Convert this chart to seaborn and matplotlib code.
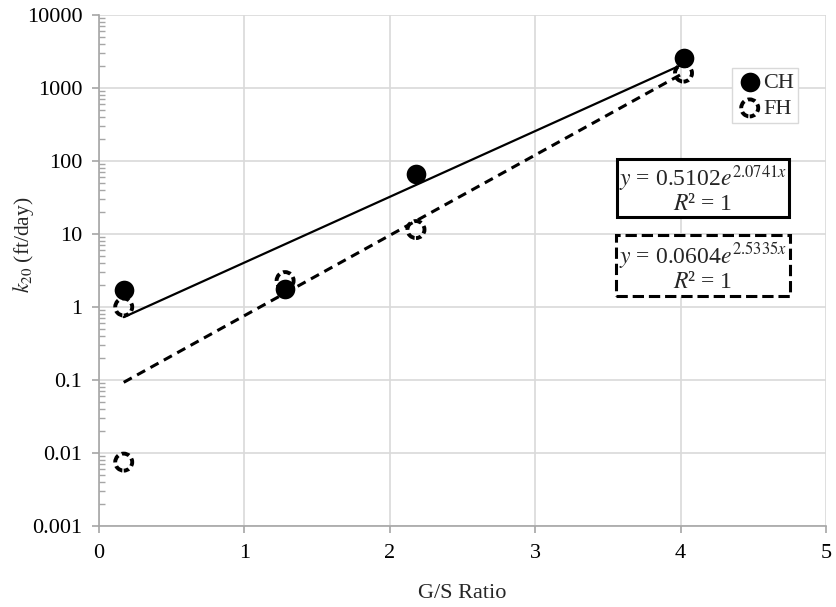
import numpy as np
import pandas as pd
import matplotlib
matplotlib.use("Agg")
import matplotlib.pyplot as plt
import matplotlib.ticker as mticker
import seaborn as sns

# ---- data ----
ch_x = [0.17, 1.28, 2.18, 4.02]
ch_y = [1.7, 1.75, 66, 2600]
fh_x = [0.17, 0.17, 1.28, 2.18, 4.02]
fh_y = [1.0, 0.0075, 2.3, 11.5, 1600]

ch_a, ch_b = 0.5102, 2.0741
fh_a, fh_b = 0.0604, 2.5335
trend_x_range = [0.17, 4.02]

x_ticks = [0, 1, 2, 3, 4, 5]
y_ticks = [0.001, 0.01, 0.1, 1, 10, 100, 1000, 10000]
y_tick_labels = ["0.001", "0.01", "0.1", "1", "10", "100", "1000", "10000"]

FS = 16

sns.set_theme(style="white")
plt.rcParams["font.family"] = ["Liberation Serif", "DejaVu Serif"]
plt.rcParams["mathtext.fontset"] = "stix"

fig = plt.figure(figsize=(8.37, 6.07), dpi=100)
ax = fig.add_axes([99 / 837, 1 - 526 / 607, 727 / 837, 511 / 607])

# trendlines
tx = np.linspace(trend_x_range[0], trend_x_range[1], 100)
df_ch_t = pd.DataFrame({"x": tx, "y": ch_a * np.exp(ch_b * tx)})
df_fh_t = pd.DataFrame({"x": tx, "y": fh_a * np.exp(fh_b * tx)})
sns.lineplot(data=df_ch_t, x="x", y="y", ax=ax, color="black", linewidth=1.6, zorder=3)
sns.lineplot(data=df_fh_t, x="x", y="y", ax=ax, color="black", linewidth=2.2,
             linestyle=(0, (3, 2)), zorder=3)

# points
df_ch = pd.DataFrame({"x": ch_x, "y": ch_y})
df_fh = pd.DataFrame({"x": fh_x, "y": fh_y})
sns.scatterplot(data=df_ch, x="x", y="y", ax=ax, color="black", s=200,
                edgecolor="black", linewidth=0, zorder=4, label="CH")
sns.scatterplot(data=df_fh, x="x", y="y", ax=ax, facecolor="none", s=150,
                edgecolor="black", linewidth=2.8, linestyle=(0.6, (2.0, 1.0)), zorder=5, label="FH")

ax.set_yscale("log")
ax.set_xlim(0, 5)
ax.set_ylim(0.001, 10000)
ax.set_xticks(x_ticks)
ax.set_xticklabels([str(t) for t in x_ticks])
ax.yaxis.set_major_locator(mticker.FixedLocator(y_ticks))
ax.yaxis.set_major_formatter(mticker.FixedFormatter(y_tick_labels))
ax.yaxis.set_minor_locator(mticker.LogLocator(base=10, subs=np.arange(2, 10)))
ax.yaxis.set_minor_formatter(mticker.NullFormatter())

ax.grid(True, which="major", color="#d9d9d9", linewidth=1.2)
for s in ["top", "right"]:
    ax.spines[s].set_visible(False)
for s in ["left", "bottom"]:
    ax.spines[s].set_color("#a6a6a6")
    ax.spines[s].set_linewidth(1.2)
ax.tick_params(axis="both", which="major", direction="out", length=5, width=1.2,
               color="#a6a6a6", labelsize=FS, labelcolor="black", left=True, bottom=True)
ax.tick_params(axis="x", which="major", pad=8)
ax.tick_params(axis="y", which="major", pad=7)
ax.tick_params(axis="y", which="minor", direction="in", length=4, width=1,
               color="#a6a6a6", left=True)

ax.set_xlabel("G/S Ratio", fontsize=FS, labelpad=15)
ax.set_ylabel(r"$\mathit{k_{20}}$ (ft/day)", fontsize=FS - 0.5, va="center")
ax.yaxis.set_label_coords((24 - 99) / 727, (526 - 245) / 511)

leg = ax.legend(loc="upper right", bbox_to_anchor=(0.962, 0.897), fontsize=FS,
                frameon=True, fancybox=False, edgecolor="#d9d9d9", framealpha=1,
                handletextpad=0.0, borderpad=0.2, labelspacing=0.25, handlelength=1.2,
                borderaxespad=0)

ax.text(0.831, 0.659, "$y$ = 0.5102$e^{2.0741x}$\n$R$² = 1", transform=ax.transAxes,
        ha="center", va="center", fontsize=FS + 1, linespacing=0.95, zorder=6,
        bbox=dict(boxstyle="square,pad=0.08", facecolor="white", edgecolor="black", linewidth=2.2))
ax.text(0.831, 0.507, "$y$ = 0.0604$e^{2.5335x}$\n$R$² = 1", transform=ax.transAxes,
        ha="center", va="center", fontsize=FS + 1, linespacing=1.05, zorder=6,
        bbox=dict(boxstyle="square,pad=0.12", facecolor="white", edgecolor="black",
                  linewidth=2.2, linestyle="--"))

fig.savefig("out.png", dpi=100)
